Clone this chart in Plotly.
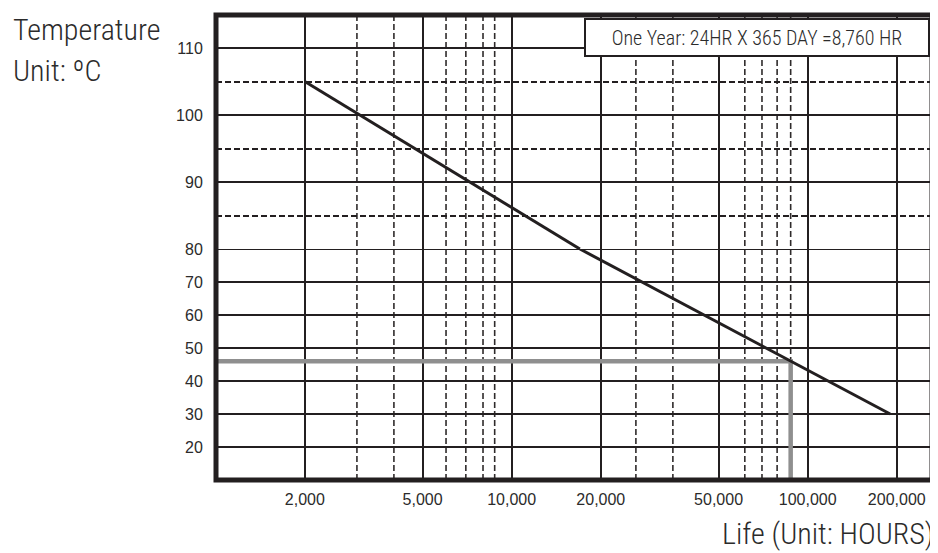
import plotly.graph_objects as go

# ---------------- data ----------------
line_hours = [2000, 17000, 190000]
line_temps = [105, 80, 30]

x_tick_vals = [2000, 5000, 10000, 20000, 50000, 100000, 200000]
x_tick_text = ["2,000", "5,000", "10,000", "20,000", "50,000", "100,000", "200,000"]
x_dashed_vals = [3000, 4000, 6000, 7000, 8000, 8760, 26280, 35040, 61320, 70080, 78840, 87600]

y_upper_ticks = [90, 100, 110]
y_upper_dashed = [85, 95, 105]
y_lower_ticks = [20, 30, 40, 50, 60, 70, 80]
split_temp = 80

marker_hours = 87600
marker_temp = 46

# ---------------- layout constants ----------------
OFF = 8                               # page body margin of the html page
W, H = 938 - OFF, 553 - OFF
ML, MR, MT, MB = 208, 6, 7, 73
PW, PH = W - ML - MR, H - MT - MB
SPLIT = (H - MB - (249 - OFF)) / PH   # paper fraction where 80 degC sits

X_RANGE = [3.001, 5.420]              # log10 range
Y_UP_RANGE = [80, 114.93]
Y_LO_RANGE = [10, 80]

INK = "#231f20"
TXT = "#2b2b2b"
GREY = "#8f8f8f"
REG = "Liberation Sans, Arial, sans-serif"
NARROW = "Roboto Condensed, Liberation Sans Narrow, Roboto, sans-serif"


def px_x(p):
    return (p - OFF - ML) / PW


def px_y(p):
    return (H - MB - (p - OFF)) / PH


fig = go.Figure()

# grey 10-year marker
fig.add_trace(go.Scatter(x=[10 ** X_RANGE[0], marker_hours, marker_hours],
                         y=[marker_temp, marker_temp, Y_LO_RANGE[0]],
                         xaxis="x2", yaxis="y2", mode="lines",
                         line=dict(color=GREY, width=4.5), hoverinfo="skip",
                         showlegend=False))

up_x = [h for h, t in zip(line_hours, line_temps) if t >= split_temp]
up_y = [t for t in line_temps if t >= split_temp]
lo_x = [h for h, t in zip(line_hours, line_temps) if t <= split_temp]
lo_y = [t for t in line_temps if t <= split_temp]

fig.add_trace(go.Scatter(x=up_x, y=up_y, xaxis="x", yaxis="y", mode="lines",
                         line=dict(color=INK, width=3), showlegend=False))
fig.add_trace(go.Scatter(x=lo_x, y=lo_y, xaxis="x2", yaxis="y2", mode="lines",
                         line=dict(color=INK, width=3), showlegend=False))

shapes = []
for v in x_dashed_vals:
    shapes.append(dict(type="line", xref="x2", yref="paper", x0=v, x1=v, y0=0, y1=1,
                       line=dict(color="#2f2b2b", width=1.6, dash="6px,3px"), layer="below"))
shapes.append(dict(type="line", xref="paper", yref="y2", x0=0, x1=1, y0=split_temp, y1=split_temp,
                   line=dict(color=INK, width=2), layer="below"))
shapes.append(dict(type="rect", xref="paper", yref="paper", x0=0, x1=1, y0=0, y1=1,
                   line=dict(color=INK, width=5), layer="above"))

grid_common = dict(showline=False, zeroline=False, showgrid=True, gridcolor=INK,
                   gridwidth=1.6, automargin=False)
tick_font = dict(family=REG, size=16, color=TXT)
title_font = dict(family=NARROW, size=30, color=TXT, weight=300)

fig.update_layout(
    width=W, height=H,
    margin=dict(l=ML, r=MR, t=MT, b=MB, autoexpand=False),
    paper_bgcolor="white", plot_bgcolor="white",
    showlegend=False,
    xaxis=dict(type="log", range=X_RANGE, domain=[0, 1], anchor="y", matches="x2",
               tickmode="array", tickvals=x_tick_vals, showticklabels=False, ticks="",
               **grid_common),
    xaxis2=dict(type="log", range=X_RANGE, domain=[0, 1], anchor="y2",
                tickmode="array", tickvals=x_tick_vals, ticktext=x_tick_text,
                ticks="outside", ticklen=5, tickcolor="rgba(0,0,0,0)",
                tickfont=tick_font, **grid_common),
    yaxis=dict(range=Y_UP_RANGE, domain=[SPLIT, 1], anchor="x",
               tickmode="array", tickvals=y_upper_ticks,
               ticks="outside", ticklen=9, tickcolor="rgba(0,0,0,0)",
               tickfont=tick_font,
               minor=dict(tickmode="array", tickvals=y_upper_dashed, showgrid=True,
                          gridcolor=INK, gridwidth=1.6, griddash="6px,3px", ticks=""),
               **grid_common),
    yaxis2=dict(range=Y_LO_RANGE, domain=[0, SPLIT], anchor="x2",
                tickmode="array", tickvals=y_lower_ticks,
                ticks="outside", ticklen=9, tickcolor="rgba(0,0,0,0)",
                tickfont=tick_font, **grid_common),
    shapes=shapes,
    annotations=[
        dict(text="One Year: 24HR X 365 DAY =8,760 HR", xref="paper", yref="paper",
             x=1, y=1, xanchor="right", yanchor="top", xshift=-2.5, yshift=-2.5,
             showarrow=False, width=338, height=31, borderpad=2, borderwidth=2,
             bordercolor=INK, bgcolor="white",
             font=dict(family=NARROW, size=20, color=TXT, weight=300)),
        dict(text="Temperature", xref="paper", yref="paper",
             x=px_x(11), y=px_y(30), xanchor="left", yanchor="middle", align="left",
             showarrow=False, font=title_font),
        dict(text="Unit: ºC", xref="paper", yref="paper",
             x=px_x(11), y=px_y(70), xanchor="left", yanchor="middle", align="left",
             showarrow=False, font=title_font),
        dict(text="Life (Unit: HOURS)", xref="paper", yref="paper",
             x=px_x(936), y=px_y(533), xanchor="right", yanchor="middle",
             showarrow=False, font=title_font),
    ],
)

fig.write_html("out.html")
